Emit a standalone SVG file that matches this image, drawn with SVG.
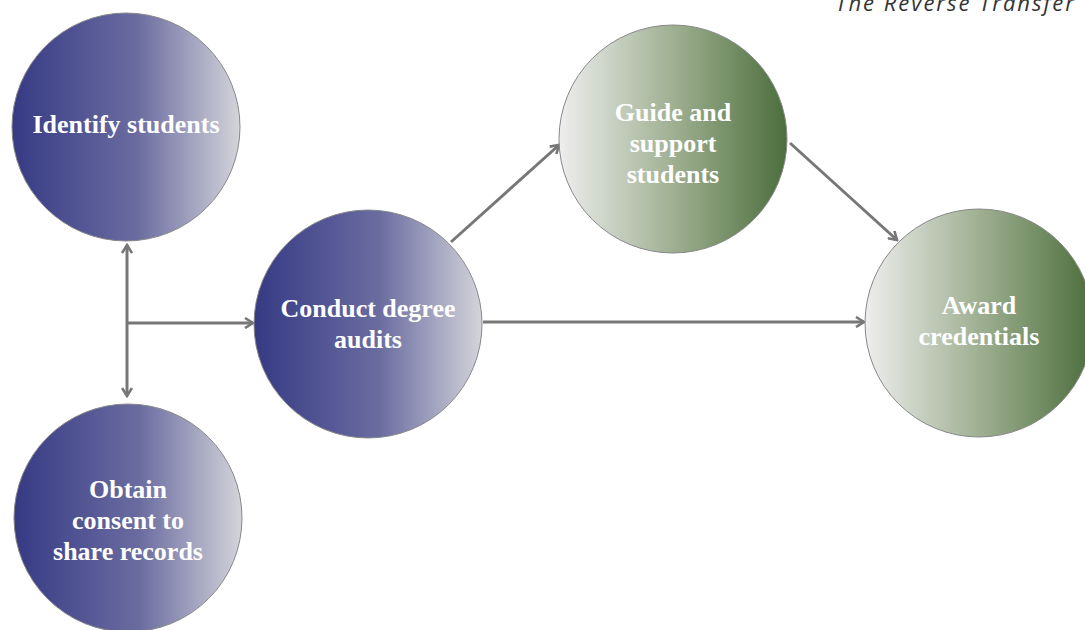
<svg xmlns="http://www.w3.org/2000/svg" width="1085" height="630" viewBox="0 0 1085 630">
<defs>
<linearGradient id="blue" x1="0" y1="0" x2="1" y2="0">
<stop offset="0" stop-color="#363a84"/>
<stop offset="0.55" stop-color="#6a6ca0"/>
<stop offset="1" stop-color="#d4d4da"/>
</linearGradient>
<linearGradient id="green" x1="0" y1="0" x2="1" y2="0">
<stop offset="0" stop-color="#eeeeee"/>
<stop offset="0.5" stop-color="#9fb092"/>
<stop offset="1" stop-color="#4c6e3c"/>
</linearGradient>
<marker id="arr" viewBox="0 0 12 12" refX="10" refY="6" markerWidth="12" markerHeight="12" markerUnits="userSpaceOnUse" orient="auto-start-reverse">
<path d="M2,1 L10,6 L2,11" fill="none" stroke="#777777" stroke-width="2.6"/>
</marker>
</defs>
<style>
.nb{fill:url(#blue);stroke:#888;stroke-width:1}
.ng{fill:url(#green);stroke:#888;stroke-width:1}
.t{font-family:"Liberation Serif","Times New Roman",serif;font-weight:bold;font-size:26px;fill:#ffffff;text-anchor:middle}
.c{fill:none;stroke:#777777;stroke-width:3}
</style>
<text x="1076" y="11" font-family="'Open Sans','DejaVu Sans',sans-serif" font-style="italic" font-size="22" fill="#333" text-anchor="end" letter-spacing="2">The Reverse Transfer</text>
<g id="connectors">
<line class="c" x1="127" y1="245" x2="127" y2="396" marker-start="url(#arr)" marker-end="url(#arr)"/>
<line class="c" x1="127" y1="323" x2="253" y2="323" marker-end="url(#arr)"/>
<line class="c" x1="451" y1="242" x2="559" y2="145" marker-end="url(#arr)"/>
<line class="c" x1="790" y1="143" x2="897" y2="240" marker-end="url(#arr)"/>
<line class="c" x1="483" y1="322" x2="864" y2="322" marker-end="url(#arr)"/>
</g>
<g id="identify">
<circle class="nb" cx="126" cy="127" r="114"/>
<text class="t" x="126" y="133">Identify students</text>
</g>
<g id="obtain">
<circle class="nb" cx="128" cy="518" r="114"/>
<text class="t" x="128" y="498">Obtain</text>
<text class="t" x="128" y="529">consent to</text>
<text class="t" x="128" y="560">share records</text>
</g>
<g id="conduct">
<circle class="nb" cx="368" cy="324" r="114"/>
<text class="t" x="368" y="317">Conduct degree</text>
<text class="t" x="368" y="348">audits</text>
</g>
<g id="guide">
<circle class="ng" cx="673" cy="139" r="114"/>
<text class="t" x="673" y="121">Guide and</text>
<text class="t" x="673" y="152">support</text>
<text class="t" x="673" y="183">students</text>
</g>
<g id="award">
<circle class="ng" cx="979" cy="323" r="114"/>
<text class="t" x="979" y="314">Award</text>
<text class="t" x="979" y="345">credentials</text>
</g>
</svg>
